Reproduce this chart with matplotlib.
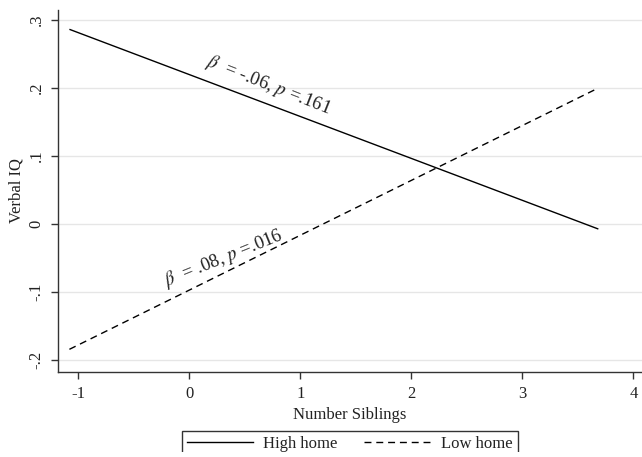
import matplotlib
matplotlib.use("Agg")
import matplotlib.pyplot as plt
from matplotlib.lines import Line2D
from matplotlib.transforms import Bbox

# ---- data ----
x_range = [-1.08, 3.685]
high_home = [0.2863, -0.0074]
low_home = [-0.1843, 0.200]
series_labels = ["High home", "Low home"]
xticks = [-1, 0, 1, 2, 3, 4]
xtick_labels = ["-1", "0", "1", "2", "3", "4"]
yticks = [-0.2, -0.1, 0.0, 0.1, 0.2, 0.3]
ytick_labels = ["-.2", "-.1", "0", ".1", ".2", ".3"]
annot_high = r"$\beta$  = -.06, $p$ =.161"
annot_low = r"$\beta$  = .08, $p$ =.016"

plt.rcParams["font.family"] = ["Liberation Serif", "DejaVu Serif"]
plt.rcParams["mathtext.fontset"] = "stix"

W, H = 642, 457
fig = plt.figure(figsize=(W / 100, H / 100), dpi=100)
left = 58.3 / W
bottom = (H - 371.7) / H
top = 10 / H
ax = fig.add_axes([left, bottom, 1 - left, 1 - bottom - top])

ax.plot(x_range, high_home, color="black", lw=1.0, solid_capstyle="butt")
ax.plot(x_range, low_home, color="black", lw=1.0, dashes=(5, 3.5))

ax.set_xlim(-1.18, 4.078)
ax.set_ylim(-0.2172, 0.3147)

ax.set_xticks(xticks)
ax.set_xticklabels(xtick_labels)
ax.set_yticks(yticks)
ax.set_yticklabels(ytick_labels, rotation=90, va="center")

ax.grid(axis="y", color="#e6e6e6", lw=1.0)
ax.set_axisbelow(True)
for s in ["top", "right"]:
    ax.spines[s].set_visible(False)
for s in ["left", "bottom"]:
    ax.spines[s].set_color("#333333")
    ax.spines[s].set_linewidth(1.0)
ax.tick_params(axis="both", direction="out", length=5, width=1.0,
               color="#333333", labelsize=12, pad=5, labelcolor="#222222")

ax.set_xlabel("Number Siblings", fontsize=12, color="#222222", labelpad=4)
ax.set_ylabel("Verbal IQ", fontsize=12, color="#222222", labelpad=3)

ax.text(0.71, 0.204, annot_high, rotation=-21.5, ha="center", va="center",
        fontsize=13.5, color="#222222", rotation_mode="anchor")
ax.text(0.31, -0.050, annot_low, rotation=22, ha="center", va="center",
        fontsize=13.5, color="#222222", rotation_mode="anchor")

handles = [Line2D([], [], color="black", lw=1.0),
           Line2D([], [], color="black", lw=1.0, dashes=(5, 3.5))]
leg = fig.legend(handles, series_labels, loc="upper left",
                 bbox_to_anchor=(181.7 / W, 1 - 430.7 / H),
                 bbox_transform=fig.transFigure, ncol=2, fontsize=12,
                 frameon=True, fancybox=False, handlelength=4.0,
                 handletextpad=0.6, columnspacing=1.6, borderpad=0.3,
                 borderaxespad=0)
frame = leg.get_frame()
frame.set_edgecolor("black")
frame.set_linewidth(1.0)
frame.set_clip_on(True)
frame.set_clip_box(Bbox.from_extents(0, 5, W, H))
for t in leg.get_texts():
    t.set_color("#222222")

fig.savefig("out.png", dpi=100)
